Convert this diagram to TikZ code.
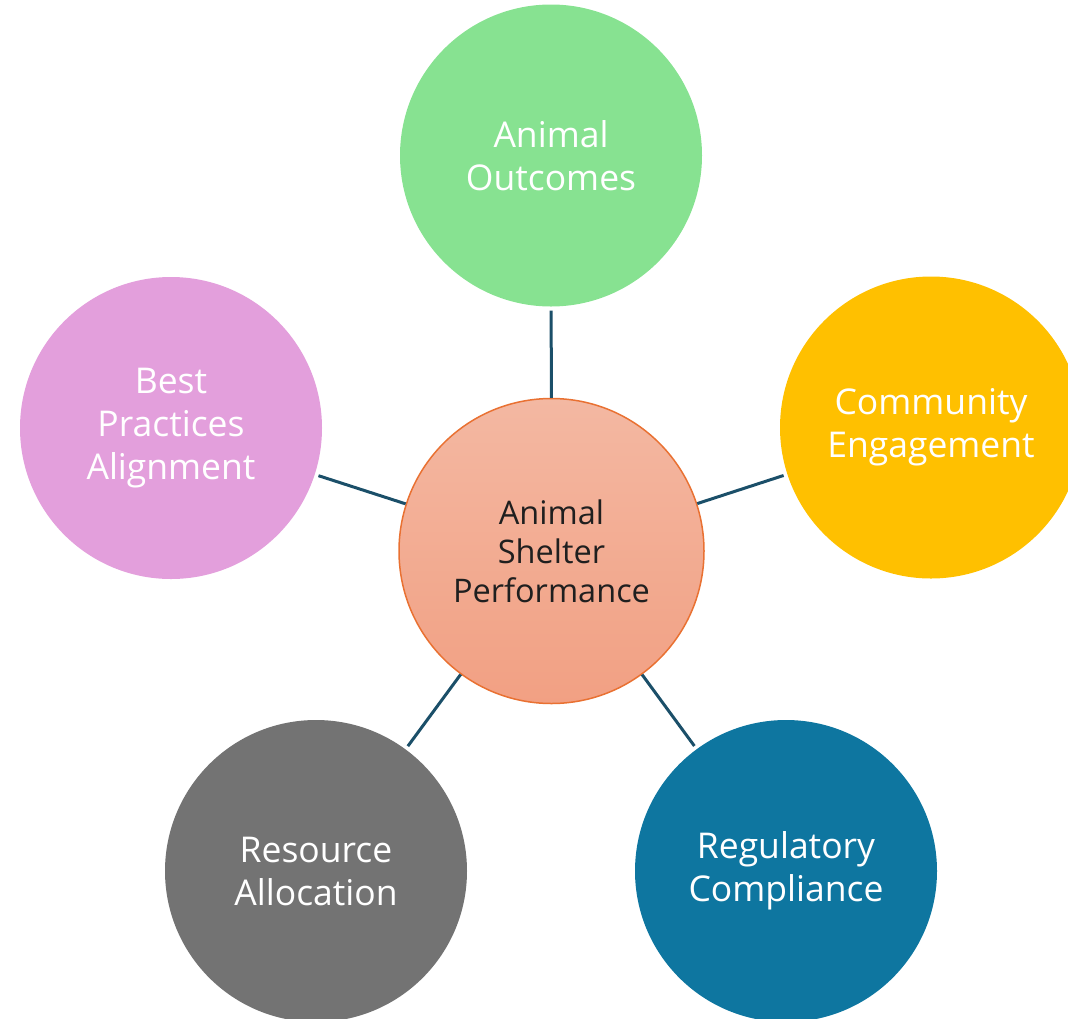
\documentclass[tikz,border=0pt]{standalone}
\usepackage{fontspec}
\setmainfont{Open Sans}
\definecolor{cgreen}{HTML}{87E291}
\definecolor{cpink}{HTML}{E39FDC}
\definecolor{cyellow}{HTML}{FFC000}
\definecolor{cblue}{HTML}{0E76A0}
\definecolor{cgray}{HTML}{737373}
\definecolor{hubtop}{HTML}{F3B8A2}
\definecolor{hubbot}{HTML}{F2A083}
\definecolor{hubborder}{HTML}{E97132}
\definecolor{linkc}{HTML}{1B4F69}
\begin{document}
\begin{tikzpicture}[x=1pt,y=-1pt,
 outer/.style={circle, minimum size=302pt, inner sep=0pt, text=white, align=center,
   font=\fontsize{35.5}{43}\selectfont, outer sep=4pt},
 hub/.style={circle, minimum size=305pt, inner sep=0pt, draw=hubborder, line width=1.5pt,
   top color=hubtop, bottom color=hubbot, text=black!88, align=center,
   font=\fontsize{32.5}{39}\selectfont},
 link/.style={draw=linkc, line width=3pt}]
\useasboundingbox (0,0) rectangle (1068,1018);
\clip (0,0) rectangle (1068,1018);
\node[hub] (c) at (551.5,551) {Animal\\Shelter\\Performance};
\node[outer, fill=cgreen] (ao) at (551,155.5) {Animal\\Outcomes};
\node[outer, fill=cyellow] (ce) at (931,427.5) {Community\\Engagement};
\node[outer, fill=cpink] (bp) at (171,428) {Best\\Practices\\Alignment};
\node[outer, fill=cgray] (ra) at (316,871) {Resource\\Allocation};
\node[outer, fill=cblue] (rc) at (786,871) {Regulatory\\Compliance};
\draw[link] (c) -- (ao);
\draw[link] (c) -- (ce);
\draw[link] (c) -- (bp);
\draw[link] (c) -- (ra);
\draw[link] (c) -- (rc);
\end{tikzpicture}
\end{document}
